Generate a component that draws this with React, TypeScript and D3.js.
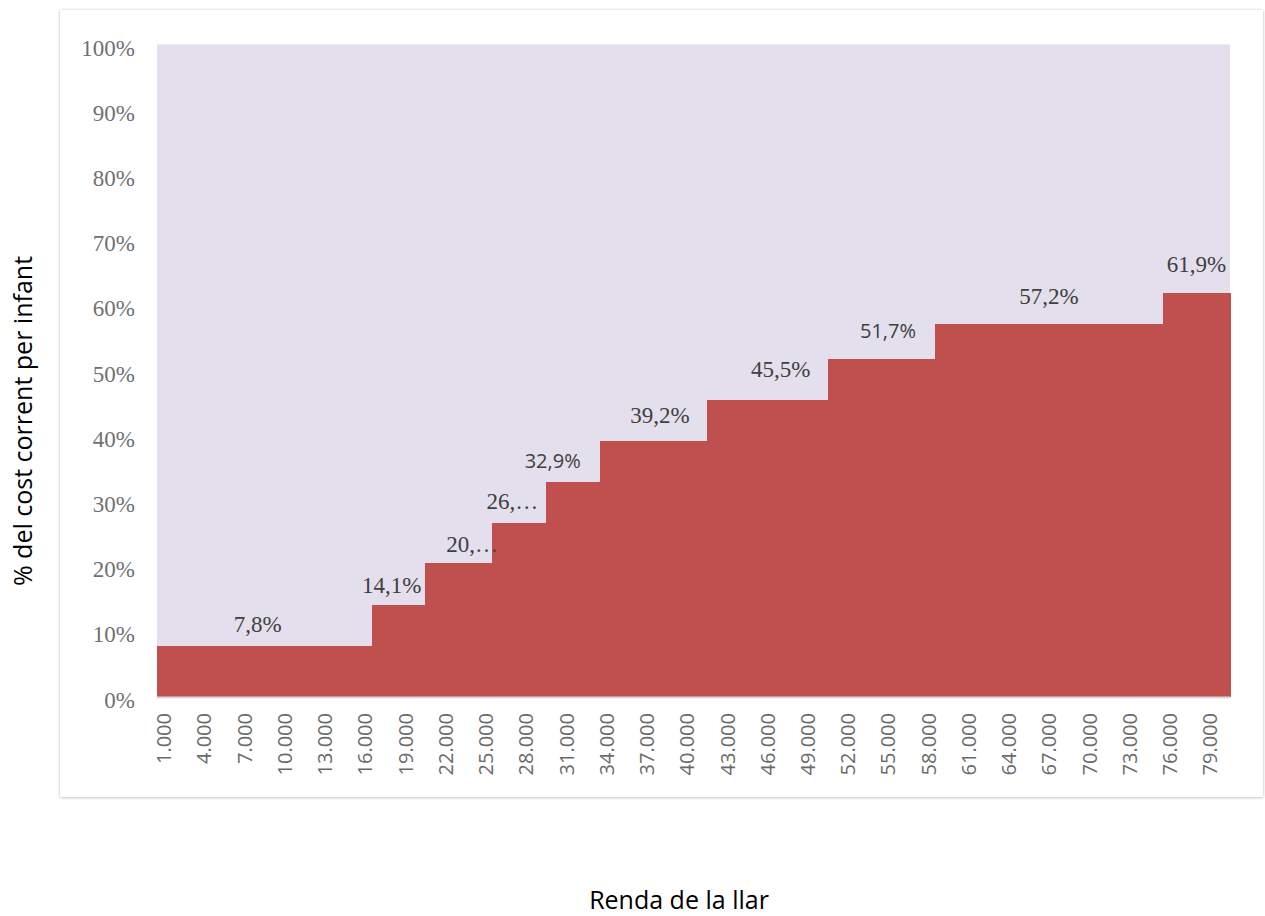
import React, { useEffect, useRef } from "react";
import * as d3 from "d3";

// income categories (one column per 1.000, columns touch each other)
const incomes = d3.range(1000, 80001, 1000);

// step brackets: first income of each bracket and its share of the cost
const bracketStart = [1000, 17000, 21000, 26000, 30000, 34000, 42000, 51000, 59000, 76000];
const bracketValue = [7.8, 14.1, 20.4, 26.6, 32.9, 39.2, 45.5, 51.7, 57.2, 61.9];

// data labels as they appear (some truncated) and the column they sit on
const labelText = ["7,8%", "14,1%", "20,…", "26,…", "32,9%", "39,2%", "45,5%", "51,7%", "57,2%", "61,9%"];
const labelAt = [8000, 18000, 24000, 27000, 30000, 38000, 47000, 55000, 67000, 78000];
const labelSans = [false, false, false, false, true, false, false, true, false, false];

const yTicks = [0, 10, 20, 30, 40, 50, 60, 70, 80, 90, 100];

// label lift above the column top (px)
const labelGap = [14, 12, 11, 14, 14, 18, 23, 21, 20, 21];

const W = 1265;
const H = 916;
const plot = { left: 157, right: 1230, top: 44.5, bottom: 696.5 };

const serif = "'Liberation Serif', 'Times New Roman', serif";
const sans = "'Open Sans', 'Noto Sans', sans-serif";

const locale = d3.formatLocale({ decimal: ",", thousands: ".", grouping: [3], currency: ["", "€"] });
const fmtIncome = locale.format(",d");

export default function App() {
  const ref = useRef<SVGSVGElement>(null);

  useEffect(() => {
    const svg = d3.select(ref.current);
    svg.selectAll("*").remove();

    const x = d3
      .scaleBand<number>()
      .domain(incomes)
      .range([plot.left, plot.right])
      .padding(0);
    const bw = x.bandwidth();
    const y = d3.scaleLinear().domain([0, 100]).range([plot.bottom, plot.top]);

    // card with soft shadow
    const defs = svg.append("defs");
    const f = defs
      .append("filter")
      .attr("id", "shadow")
      .attr("x", "-5%")
      .attr("y", "-5%")
      .attr("width", "110%")
      .attr("height", "110%");
    f.append("feDropShadow")
      .attr("dx", 0)
      .attr("dy", 0.5)
      .attr("stdDeviation", 1.6)
      .attr("flood-color", "#000")
      .attr("flood-opacity", 0.3);

    svg
      .append("rect")
      .attr("x", 60)
      .attr("y", 10)
      .attr("width", 1203)
      .attr("height", 787)
      .attr("fill", "#fff")
      .attr("filter", "url(#shadow)");

    // plot area
    svg
      .append("rect")
      .attr("x", plot.left)
      .attr("y", plot.top)
      .attr("width", plot.right - plot.left)
      .attr("height", plot.bottom - plot.top)
      .attr("fill", "#e4dfec");

    // step columns, one rect per bracket
    const brackets = bracketStart.map((s, i) => ({
      start: s,
      end: i < bracketStart.length - 1 ? bracketStart[i + 1] - 1000 : incomes[incomes.length - 1],
      value: bracketValue[i],
    }));

    svg
      .append("g")
      .attr("shape-rendering", "crispEdges")
      .selectAll("rect")
      .data(brackets)
      .enter()
      .append("rect")
      .attr("x", (d) => x(d.start)!)
      .attr("width", (d) => x(d.end)! + bw - x(d.start)! + 0.5)
      .attr("y", (d) => y(d.value))
      .attr("height", (d) => y(0) - y(d.value))
      .attr("fill", "#c0504d");

    // baseline
    svg
      .append("line")
      .attr("x1", plot.left)
      .attr("x2", plot.right)
      .attr("y1", y(0) + 1)
      .attr("y2", y(0) + 1)
      .attr("stroke", "#d9d9d9")
      .attr("stroke-width", 2);

    // y axis labels
    svg
      .append("g")
      .selectAll("text")
      .data(yTicks)
      .enter()
      .append("text")
      .attr("x", 135)
      .attr("y", (d) => y(d) + 3.5)
      .attr("text-anchor", "end")
      .attr("dominant-baseline", "central")
      .style("font-family", serif)
      .style("font-size", "23px")
      .style("fill", "#707070")
      .text((d) => d + "%");

    // x axis labels, every third category, rotated
    svg
      .append("g")
      .selectAll("text")
      .data(incomes.filter((_, i) => i % 3 === 0))
      .enter()
      .append("text")
      .attr("transform", (d) => `translate(${x(d)! + bw / 2},713) rotate(-90)`)
      .attr("text-anchor", "end")
      .attr("dominant-baseline", "central")
      .style("font-family", sans)
      .style("font-size", "20px")
      .style("fill", "#6a6a6a")
      .text((d) => fmtIncome(d));

    // data labels
    svg
      .append("g")
      .selectAll("text")
      .data(labelText)
      .enter()
      .append("text")
      .attr("x", (_, i) => x(labelAt[i])! + bw / 2)
      .attr("y", (_, i) => y(bracketValue[i]) - labelGap[i])
      .attr("text-anchor", "middle")
      .style("font-family", (_, i) => (labelSans[i] ? sans : serif))
      .style("font-size", (_, i) => (labelSans[i] ? "20px" : "23px"))
      .style("fill", "#404040")
      .text((d) => d);

    // axis titles
    svg
      .append("text")
      .attr("transform", "translate(22,421) rotate(-90)")
      .attr("text-anchor", "middle")
      .attr("dominant-baseline", "central")
      .style("font-family", sans)
      .style("font-size", "25px")
      .style("fill", "#000")
      .text("% del cost corrent per infant");

    svg
      .append("text")
      .attr("x", 679)
      .attr("y", 909)
      .attr("text-anchor", "middle")
      .style("font-family", sans)
      .style("font-size", "25px")
      .style("fill", "#000")
      .text("Renda de la llar");
  }, []);

  return (
    <svg
      ref={ref}
      width={W}
      height={H}
      style={{ position: "absolute", left: 0, top: 0, background: "#fff" }}
    />
  );
}
